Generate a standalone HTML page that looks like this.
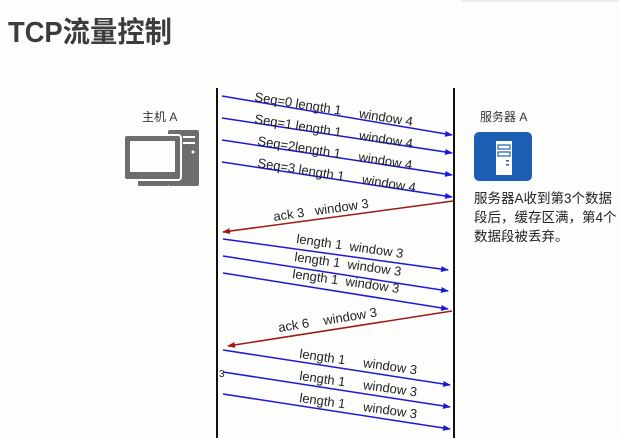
<!DOCTYPE html>
<html><head><meta charset="utf-8"><style>
body{margin:0;background:#fdfdfc;width:619px;height:438px;overflow:hidden}
svg{display:block}
text{font-family:"Liberation Sans","Noto Sans CJK SC",sans-serif}
</style></head><body>
<svg width="619" height="438" viewBox="0 0 619 438">
<defs>
<marker id="ab" markerWidth="8" markerHeight="6" refX="7" refY="3" orient="auto" markerUnits="userSpaceOnUse"><path d="M0,0L8,3L0,6z" fill="#1a1ad8"/></marker>
<marker id="ar" markerWidth="8" markerHeight="6" refX="7" refY="3" orient="auto" markerUnits="userSpaceOnUse"><path d="M0,0L8,3L0,6z" fill="#a01818"/></marker>
</defs>
<rect x="462" y="-4" width="170" height="5" fill="#fff" stroke="#ddd"/>
<text x="8" y="42" font-size="29" font-weight="bold" fill="#3c3c3c" textLength="164" lengthAdjust="spacingAndGlyphs">TCP流量控制</text>
<line x1="217" y1="88" x2="217" y2="438" stroke="#111" stroke-width="2"/>
<line x1="454" y1="88" x2="454" y2="438" stroke="#111" stroke-width="2"/>
<text x="142" y="121" font-size="12" fill="#333">主机 A</text>
<g fill="#6d6d6d">
<rect x="168" y="130" width="31" height="56" rx="2"/>
<rect x="183" y="136" width="12" height="2" fill="#fdfdfc"/>
<rect x="183" y="142" width="12" height="2" fill="#fdfdfc"/>
<circle cx="193" cy="152" r="1.5" fill="#fdfdfc"/>
<rect x="124" y="135" width="57" height="45" rx="3" stroke="#fdfdfc" stroke-width="2"/>
<rect x="130" y="141" width="45" height="31" fill="#fdfdfc"/>
<rect x="138" y="181" width="30" height="5"/>
</g>
<text x="480" y="121" font-size="12" fill="#333">服务器 A</text>
<rect x="474" y="132" width="58" height="49" rx="5" fill="#1c5fb4"/>
<rect x="496" y="141" width="16" height="34" fill="#fff"/>
<rect x="498" y="145" width="12" height="4" fill="none" stroke="#1c5fb4" stroke-width="1.2"/>
<rect x="498" y="152" width="12" height="4" fill="none" stroke="#1c5fb4" stroke-width="1.2"/>
<rect x="506" y="160" width="3" height="1.5" fill="#1c5fb4"/>
<rect x="506" y="164" width="3" height="1.5" fill="#1c5fb4"/>
<g font-size="13.5" fill="#222">
<text x="474" y="203">服务器A收到第3个数据</text>
<text x="474" y="222">段后，缓存区满，第4个</text>
<text x="474" y="241">数据段被丢弃。</text>
</g>
<g stroke="#1a1ad8" stroke-width="1.5" marker-end="url(#ab)">
<line x1="222" y1="96" x2="452" y2="135"/>
<line x1="222" y1="118" x2="452" y2="153"/>
<line x1="222" y1="140" x2="452" y2="175"/>
<line x1="222" y1="162" x2="452" y2="197"/>
<line x1="223" y1="239" x2="448" y2="270"/>
<line x1="223" y1="256" x2="448" y2="291"/>
<line x1="223" y1="273" x2="448" y2="309"/>
<line x1="223" y1="350" x2="450" y2="385"/>
<line x1="223" y1="372" x2="450" y2="407"/>
<line x1="223" y1="394" x2="450" y2="429"/>
</g>
<g stroke="#a01818" stroke-width="1.5" marker-end="url(#ar)">
<line x1="453" y1="201" x2="223" y2="232"/>
<line x1="452" y1="311" x2="228" y2="346"/>
</g>
<g font-size="13" fill="#222">
<text x="254" y="101" transform="rotate(9,254,101)" xml:space="preserve">Seq=0 length 1     window 4</text>
<text x="254" y="123" transform="rotate(9,254,123)" xml:space="preserve">Seq=1 length 1     window 4</text>
<text x="257" y="145" transform="rotate(9,257,145)" xml:space="preserve">Seq=2length 1     window 4</text>
<text x="257" y="167" transform="rotate(9,257,167)" xml:space="preserve">Seq=3 length 1     window 4</text>
<text x="274" y="221" transform="rotate(-8,274,221)" xml:space="preserve">ack 3   window 3</text>
<text x="296" y="243" transform="rotate(8,296,243)" xml:space="preserve">length 1  window 3</text>
<text x="294" y="261" transform="rotate(8,294,261)" xml:space="preserve">length 1  window 3</text>
<text x="292" y="278" transform="rotate(8,292,278)" xml:space="preserve">length 1  window 3</text>
<text x="279" y="332" transform="rotate(-9,279,332)" xml:space="preserve">ack 6    window 3</text>
<text x="299" y="358" transform="rotate(8,299,358)" xml:space="preserve">length 1     window 3</text>
<text x="299" y="380" transform="rotate(8,299,380)" xml:space="preserve">length 1     window 3</text>
<text x="299" y="402" transform="rotate(8,299,402)" xml:space="preserve">length 1     window 3</text>
<text x="219" y="377" font-size="10">3</text>
</g>
</svg>
</body></html>
